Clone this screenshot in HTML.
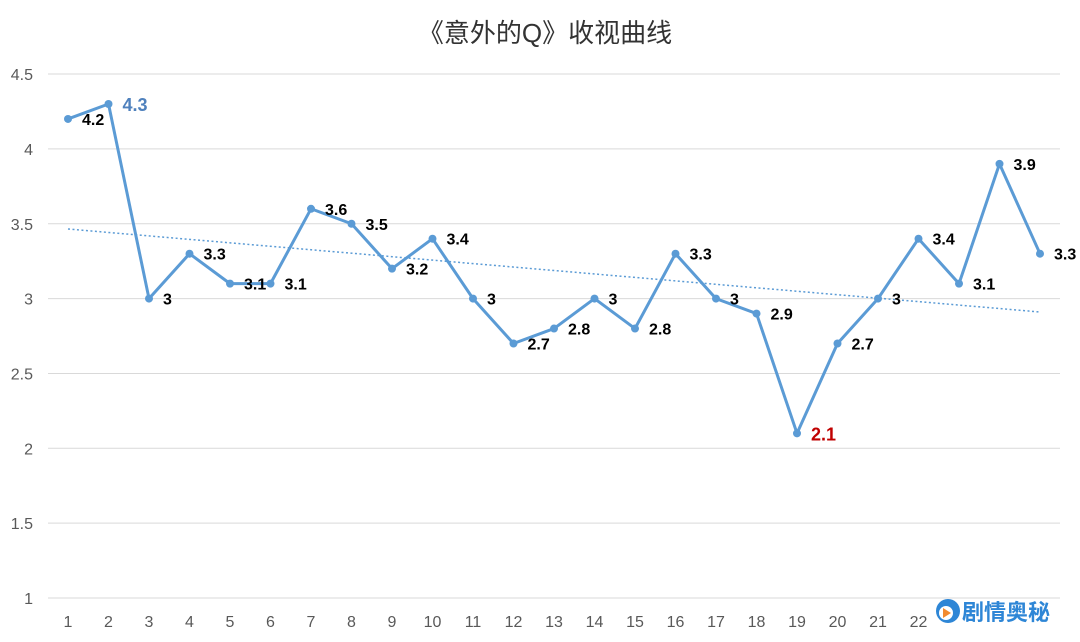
<!DOCTYPE html>
<html><head><meta charset="utf-8"><style>
body{margin:0;background:#fff;}
svg{display:block;font-family:"Liberation Sans","Noto Sans CJK SC",sans-serif;}
</style></head><body>
<svg id="c" width="1080" height="642" viewBox="0 0 1080 642" xmlns="http://www.w3.org/2000/svg">
<rect width="1080" height="642" fill="#fff"/>
<text x="545" y="42" font-size="26" text-anchor="middle" fill="#333">《意外的Q》收视曲线</text>
<g id="grid"></g>
<line x1="68" y1="229" x2="1040" y2="312" stroke="#5b9bd5" stroke-width="1.5" stroke-dasharray="2,2.5"/>
<g id="data"></g>
<g>
<rect x="928" y="602" width="132" height="40" fill="#fff"/>
<circle cx="948" cy="611" r="12" fill="#2e86d6"/>
<circle cx="946" cy="613" r="7" fill="#fff"/>
<polygon points="943,608 943,618 951,613" fill="#f28a2e"/>
<text x="962" y="620" font-size="22" font-weight="bold" fill="#2e86d6">剧情奥秘</text>
</g>
</svg>
<script>
var NS="http://www.w3.org/2000/svg";
function el(p,t,a,txt){var e=document.createElementNS(NS,t);for(var k in a)e.setAttribute(k,a[k]);if(txt!=null)e.textContent=txt;p.appendChild(e);return e;}
function Y(v){return 598-(v-1)*149.7;}
function X(i){return 68+i*40.5;}
var g=document.getElementById('grid');
[1,1.5,2,2.5,3,3.5,4,4.5].forEach(function(v){
 el(g,'line',{x1:48,x2:1060,y1:Y(v),y2:Y(v),stroke:'#d9d9d9','stroke-width':1});
 el(g,'text',{x:33,y:Y(v)+6,'font-size':16,'text-anchor':'end',fill:'#595959'},String(v));
});
for(var i=0;i<22;i++){ el(g,'text',{x:X(i),y:627,'font-size':16,'text-anchor':'middle',fill:'#595959'},String(i+1));}
var d=[4.2,4.3,3,3.3,3.1,3.1,3.6,3.5,3.2,3.4,3,2.7,2.8,3,2.8,3.3,3,2.9,2.1,2.7,3,3.4,3.1,3.9,3.3];
var dg=document.getElementById('data');
var pts=d.map(function(v,i){return X(i)+','+Y(v)}).join(' ');
el(dg,'polyline',{points:pts,fill:'none',stroke:'#5b9bd5','stroke-width':3,'stroke-linejoin':'round'});
d.forEach(function(v,i){
 el(dg,'circle',{cx:X(i),cy:Y(v),r:4,fill:'#5b9bd5'});
 var a={x:X(i)+14,y:Y(v)+6,'font-size':16,'font-weight':'bold',fill:'#000'};
 if(i==1){a.fill='#4f81bd';a['font-size']=18;a.y=Y(v)+7;}
 if(i==18){a.fill='#c00000';a['font-size']=18;a.y=Y(v)+7;}
 el(dg,'text',a,String(v));
});
</script>
</body></html>
